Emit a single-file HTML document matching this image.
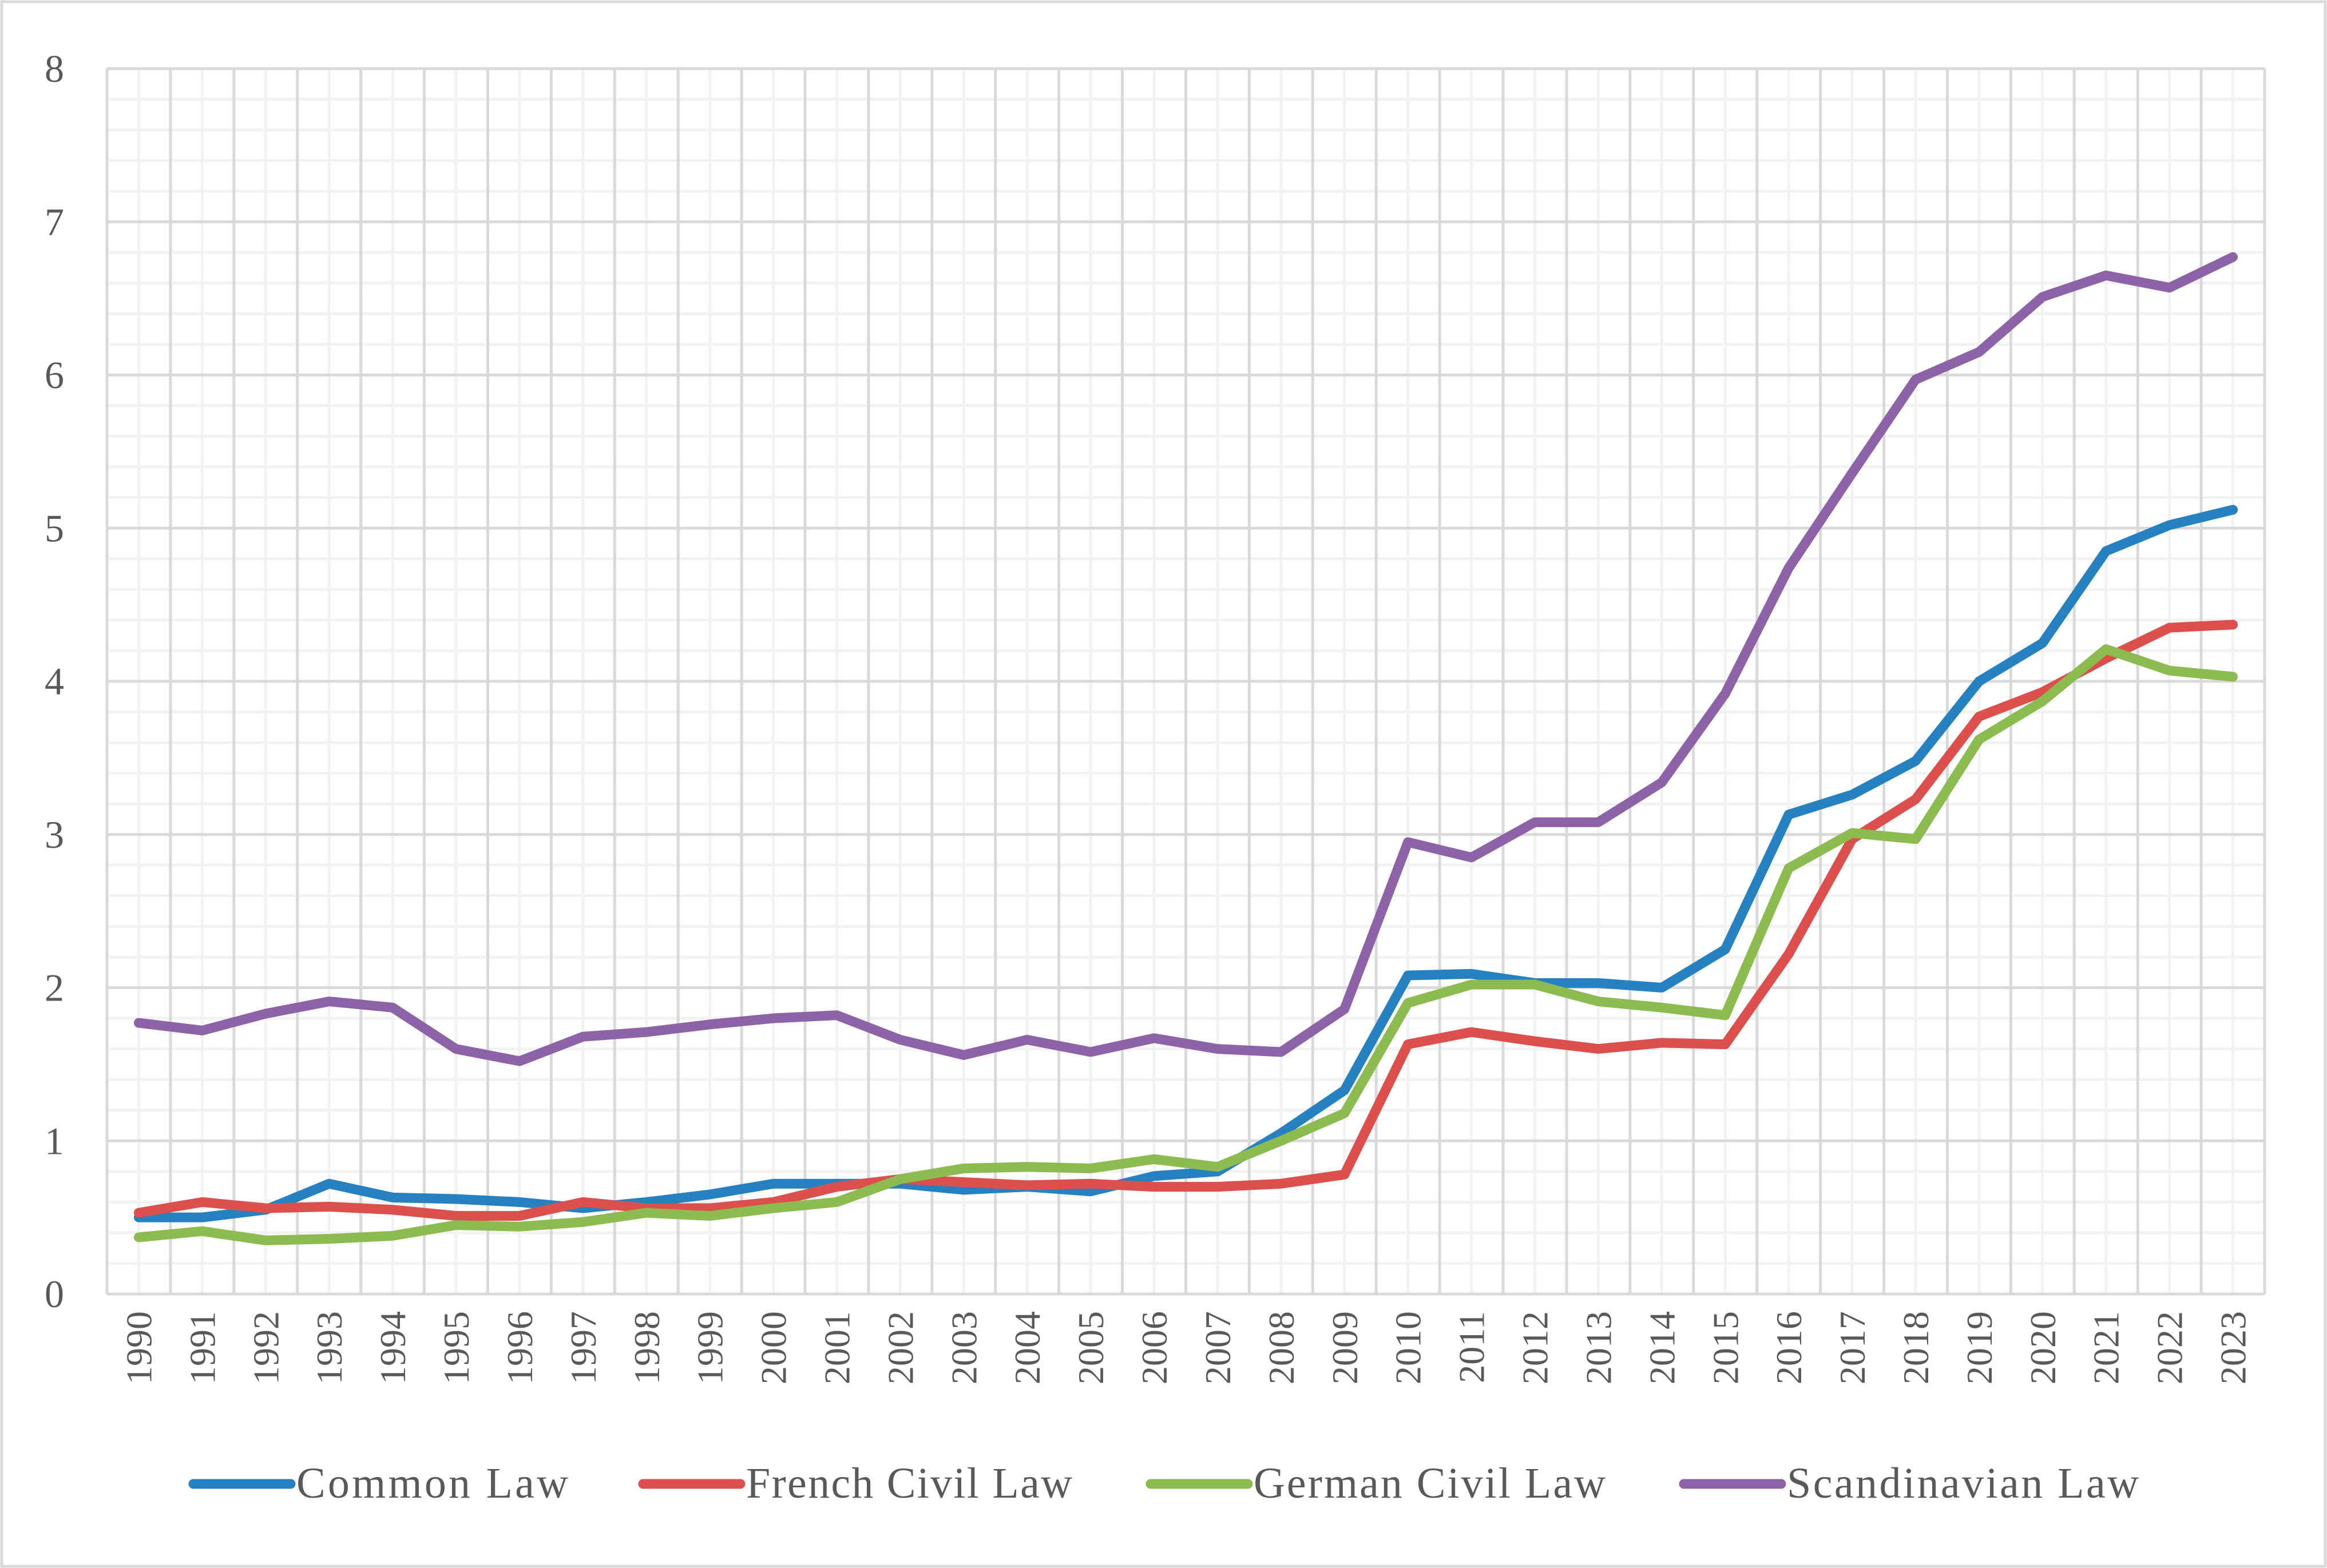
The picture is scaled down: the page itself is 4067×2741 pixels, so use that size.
<!DOCTYPE html>
<html><head><meta charset="utf-8"><style>html,body{margin:0;padding:0;background:#fff}svg{display:block}text{font-family:"Liberation Serif",serif;fill:#595959}</style></head>
<body>
<svg id="chart" width="4067" height="2741" viewBox="0 0 4067 2741" xmlns="http://www.w3.org/2000/svg">
<rect x="3" y="3" width="4061" height="2735" fill="#fff" stroke="#d9d9d9" stroke-width="5"/>
<g id="grid"></g><g id="axes"></g><g id="series"></g><g id="legend"></g>
</svg>
<script>
const years=[1990,1991,1992,1993,1994,1995,1996,1997,1998,1999,2000,2001,2002,2003,2004,2005,2006,2007,2008,2009,2010,2011,2012,2013,2014,2015,2016,2017,2018,2019,2020,2021,2022,2023];
const commonLaw=[.5,.5,.55,.72,.63,.62,.6,.56,.6,.65,.72,.72,.72,.68,.70,.67,.77,.8,1.05,1.33,2.08,2.09,2.03,2.03,2.0,2.25,3.13,3.26,3.48,4.0,4.25,4.85,5.02,5.12];
const frenchCivilLaw=[.53,.6,.56,.57,.55,.51,.51,.6,.56,.56,.6,.7,.75,.73,.71,.72,.7,.7,.72,.78,1.63,1.71,1.65,1.6,1.64,1.63,2.22,2.97,3.23,3.77,3.93,4.15,4.35,4.37];
const germanCivilLaw=[.37,.41,.35,.36,.38,.45,.44,.47,.53,.51,.56,.6,.75,.82,.83,.82,.88,.83,1.0,1.18,1.9,2.02,2.02,1.91,1.87,1.82,2.78,3.01,2.97,3.62,3.87,4.21,4.07,4.03];
const scandinavianLaw=[1.77,1.72,1.83,1.91,1.87,1.6,1.52,1.68,1.71,1.76,1.8,1.82,1.66,1.56,1.66,1.58,1.67,1.6,1.58,1.86,2.95,2.85,3.08,3.08,3.34,3.92,4.74,5.36,5.97,6.15,6.51,6.65,6.57,6.77];
const yTicks=[0,1,2,3,4,5,6,7,8];
const seriesNames=["Common Law","French Civil Law","German Civil Law","Scandinavian Law"];
const seriesColors=["#2581c0","#dc4f4c","#8cbb4f","#8e62a7"];
const seriesData=[commonLaw,frenchCivilLaw,germanCivilLaw,scandinavianLaw];

const L=187,R=3958,T=120,B=2262,yMax=8;
const cw=(R-L)/years.length;
const x=i=>L+cw*(i+0.5);
const y=v=>B-(v/yMax)*(B-T);
const NS="http://www.w3.org/2000/svg";
function mk(tag,attrs,parent){const e=document.createElementNS(NS,tag);for(const k in attrs)e.setAttribute(k,attrs[k]);parent.appendChild(e);return e;}
const grid=document.getElementById('grid'),axes=document.getElementById('axes'),ser=document.getElementById('series'),leg=document.getElementById('legend');
for(let v=0.2;v<yMax;v+=0.2){if(Math.abs(v-Math.round(v))<1e-6)continue;const l=mk('line',{x1:L,x2:R,y1:y(v),y2:y(v),stroke:'#f2f2f2','stroke-width':5},grid);

}
years.forEach((yr,i)=>{const l=mk('line',{x1:x(i),x2:x(i),y1:T,y2:B,stroke:'#f2f2f2','stroke-width':5},grid);

});
for(let i=0;i<=years.length;i++){const xx=L+cw*i;const l=mk('line',{x1:xx,x2:xx,y1:T,y2:B,stroke:'#d9d9d9','stroke-width':5},grid);

}
yTicks.forEach(v=>{const l=mk('line',{x1:L,x2:R,y1:y(v),y2:y(v),stroke:'#d9d9d9','stroke-width':5},grid);


const t=mk('text',{x:112,y:y(v)+23,'text-anchor':'end','font-size':68},axes);t.textContent=v;

});
years.forEach((yr,i)=>{const t=mk('text',{transform:`translate(${x(i)+22},2292) rotate(-90)`,'text-anchor':'end','font-size':64},axes);t.textContent=yr;

});
seriesData.forEach((d,s)=>{const p=mk('polyline',{points:d.map((v,i)=>x(i)+','+y(v)).join(' '),fill:'none',stroke:seriesColors[s],'stroke-width':17,'stroke-linejoin':'round','stroke-linecap':'round'},ser);

});
const legX=[338,1124,2011,2943];
seriesNames.forEach((n,s)=>{const g=mk('g',{},leg);


mk('line',{x1:legX[s],x2:legX[s]+170,y1:2594,y2:2594,stroke:seriesColors[s],'stroke-width':17,'stroke-linecap':'round'},g);
const t=mk('text',{x:legX[s]+180,y:2618,'font-size':76,'textLength':[475,570,615,615][s]},g);t.textContent=n;});
</script>
</body></html>
